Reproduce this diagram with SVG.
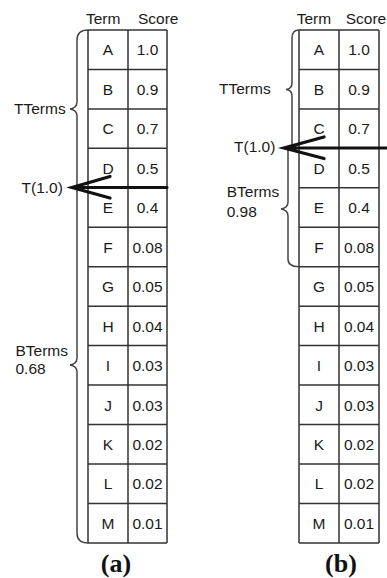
<svg xmlns="http://www.w3.org/2000/svg" width="387" height="578" viewBox="0 0 387 578">
<style>
text{font-family:"Liberation Sans",Arial,sans-serif;font-size:15.5px;fill:#1a1a1a}
.c{text-anchor:middle}
.cap{font-family:"Liberation Serif","Times New Roman",serif;font-weight:bold;font-size:26px;text-anchor:middle;fill:#111}
.grid{stroke:#333;stroke-width:1.5;fill:none}
.brace{stroke:#444;stroke-width:1.5;fill:none}
.arrow{stroke:#111;stroke-width:3.2;fill:none;stroke-linecap:round}
</style>
<rect width="387" height="578" fill="#fff"/>
<g id="tableA">
<text x="86" y="24">Term</text><text x="138" y="24">Score</text>
<path class="grid" d="M88,30V542.9M128,30V542.9M167,30V542.9M88,30H167M88,69.45H167M88,108.9H167M88,148.35H167M88,187.8H167M88,227.25H167M88,266.7H167M88,306.15H167M88,345.6H167M88,385.05H167M88,424.5H167M88,463.95H167M88,503.4H167M88,542.9H167"/>
<g class="c">
<text x="108" y="55.4">A</text><text x="147.5" y="55.4">1.0</text>
<text x="108" y="94.9">B</text><text x="147.5" y="94.9">0.9</text>
<text x="108" y="134.3">C</text><text x="147.5" y="134.3">0.7</text>
<text x="108" y="173.8">D</text><text x="147.5" y="173.8">0.5</text>
<text x="108" y="213.2">E</text><text x="147.5" y="213.2">0.4</text>
<text x="108" y="252.7">F</text><text x="147.5" y="252.7">0.08</text>
<text x="108" y="292.1">G</text><text x="147.5" y="292.1">0.05</text>
<text x="108" y="331.6">H</text><text x="147.5" y="331.6">0.04</text>
<text x="108" y="371">I</text><text x="147.5" y="371">0.03</text>
<text x="108" y="410.5">J</text><text x="147.5" y="410.5">0.03</text>
<text x="108" y="449.9">K</text><text x="147.5" y="449.9">0.02</text>
<text x="108" y="489.4">L</text><text x="147.5" y="489.4">0.02</text>
<text x="108" y="528.8">M</text><text x="147.5" y="528.8">0.01</text>
</g>
<text class="cap" x="116" y="572">(a)</text>
</g>
<g id="bracesA">
<path class="brace" d="M88,30Q77,30 77,40L77,102Q77,108 70,109Q77,110 77,116L77,358Q77,364 70,365Q77,366 77,372L77,533Q77,543 88,543"/>
<text x="14" y="114.3">TTerms</text>
<text x="21.5" y="192.5">T(1.0)</text>
<text x="15.5" y="355.7">BTerms</text>
<text x="15.5" y="374.3">0.68</text>
</g>
<g id="tableB">
<text x="296.7" y="24">Term</text><text x="345.7" y="24">Score</text>
<path class="grid" d="M299,30V542.9M339,30V542.9M379,30V542.9M299,30H379M299,69.45H379M299,108.9H379M299,148.35H379M299,187.8H379M299,227.25H379M299,266.7H379M299,306.15H379M299,345.6H379M299,385.05H379M299,424.5H379M299,463.95H379M299,503.4H379M299,542.9H379"/>
<g class="c">
<text x="319" y="55.4">A</text><text x="359" y="55.4">1.0</text>
<text x="319" y="94.9">B</text><text x="359" y="94.9">0.9</text>
<text x="319" y="134.3">C</text><text x="359" y="134.3">0.7</text>
<text x="319" y="173.8">D</text><text x="359" y="173.8">0.5</text>
<text x="319" y="213.2">E</text><text x="359" y="213.2">0.4</text>
<text x="319" y="252.7">F</text><text x="359" y="252.7">0.08</text>
<text x="319" y="292.1">G</text><text x="359" y="292.1">0.05</text>
<text x="319" y="331.6">H</text><text x="359" y="331.6">0.04</text>
<text x="319" y="371">I</text><text x="359" y="371">0.03</text>
<text x="319" y="410.5">J</text><text x="359" y="410.5">0.03</text>
<text x="319" y="449.9">K</text><text x="359" y="449.9">0.02</text>
<text x="319" y="489.4">L</text><text x="359" y="489.4">0.02</text>
<text x="319" y="528.8">M</text><text x="359" y="528.8">0.01</text>
</g>
<text class="cap" x="341" y="572">(b)</text>
</g>
<g id="bracesB">
<path class="brace" d="M299,30Q292,30 292,38L292,83Q292,89 286,89.5Q292,90 292,96L292,146"/>
<path class="brace" d="M288,150L288,202Q288,208 281,209Q288,210 288,216L288,259Q288,266.7 299,266.7"/>
<text x="219" y="94">TTerms</text>
<text x="234" y="152">T(1.0)</text>
<text x="226.7" y="197.3">BTerms</text>
<text x="226.7" y="216.7">0.98</text>
</g>
<g id="connectors">
<path class="arrow" d="M167,187.5H72M110,176.5L72,187.5L110,198"/>
<path class="arrow" d="M390,148H284M324,137L284,148L324,158.5"/>
</g>
</svg>
